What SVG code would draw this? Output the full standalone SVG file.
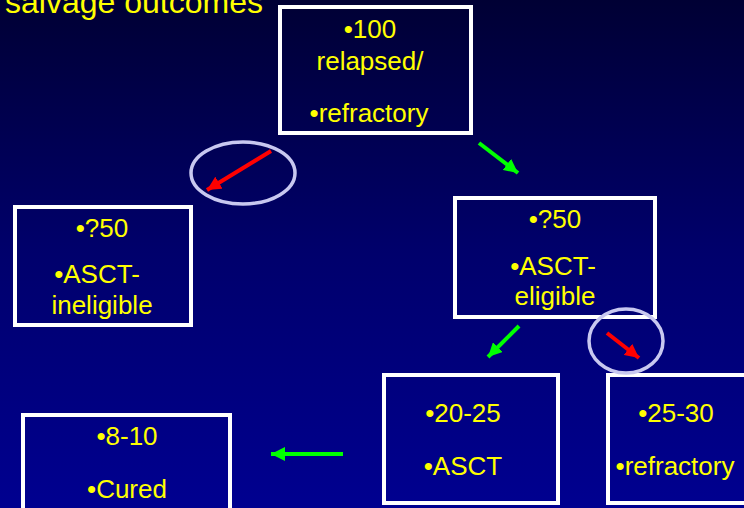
<svg xmlns="http://www.w3.org/2000/svg" width="744" height="508" viewBox="0 0 744 508">
<defs>
<linearGradient id="bg" x1="0" y1="0" x2="0" y2="1">
<stop offset="0" stop-color="#000034"/>
<stop offset="0.5" stop-color="#00006c"/>
<stop offset="1" stop-color="#000090"/>
</linearGradient>
<marker id="hr" markerUnits="userSpaceOnUse" markerWidth="16" markerHeight="14" refX="14" refY="7" orient="auto">
<path d="M0,0 L14,7 L0,14 Z" fill="#ff0000"/>
</marker>
<marker id="hg" markerUnits="userSpaceOnUse" markerWidth="16" markerHeight="14" refX="14" refY="7" orient="auto">
<path d="M0,0 L14,7 L0,14 Z" fill="#00ff00"/>
</marker>
<style>
.box{fill:none;stroke:#ffffff;stroke-width:4}
.t{font-family:"Liberation Sans",Arial,sans-serif;font-size:26px;fill:#ffff00;text-anchor:middle}
.title{font-family:"Liberation Sans",Arial,sans-serif;font-size:32px;fill:#ffff00}
.ring{fill:none;stroke:#c8c8f0;stroke-width:3.5}
.red{stroke:#ff0000;stroke-width:4;fill:none;marker-end:url(#hr)}
.green{stroke:#00ff00;stroke-width:4;fill:none;marker-end:url(#hg)}
</style>
</defs>
<rect x="0" y="0" width="744" height="508" fill="url(#bg)"/>
<text class="title" x="5" y="13">salvage outcomes</text>

<g id="node-top">
<rect class="box" x="280" y="7" width="191" height="126"/>
<text class="t" x="370" y="38">•100</text>
<text class="t" x="370" y="70">relapsed/</text>
<text class="t" x="369" y="122">•refractory</text>
</g>

<g id="node-ineligible">
<rect class="box" x="15" y="207" width="176" height="118"/>
<text class="t" x="102" y="237">•?50</text>
<text class="t" x="97" y="283">•ASCT-</text>
<text class="t" x="102" y="314">ineligible</text>
</g>

<g id="node-eligible">
<rect class="box" x="455" y="198" width="200" height="119"/>
<text class="t" x="555" y="228">•?50</text>
<text class="t" x="553" y="275">•ASCT-</text>
<text class="t" x="555" y="305">eligible</text>
</g>

<g id="node-asct">
<rect class="box" x="384" y="375" width="174" height="128"/>
<text class="t" x="463" y="422">•20-25</text>
<text class="t" x="463" y="475">•ASCT</text>
</g>

<g id="node-refractory">
<rect class="box" x="608" y="375" width="150" height="128"/>
<text class="t" x="676" y="422">•25-30</text>
<text class="t" x="675" y="475">•refractory</text>
</g>

<g id="node-cured">
<rect class="box" x="23" y="415" width="207" height="110"/>
<text class="t" x="127" y="445">•8-10</text>
<text class="t" x="127" y="498">•Cured</text>
</g>

<g id="connectors">
<ellipse class="ring" cx="243" cy="173" rx="52" ry="31"/>
<line class="red" x1="271" y1="151" x2="207" y2="190"/>
<line class="green" x1="479" y1="143" x2="518" y2="173"/>
<line class="green" x1="519" y1="326" x2="488" y2="357"/>
<ellipse class="ring" cx="626" cy="341" rx="37" ry="32"/>
<line class="red" x1="607" y1="333" x2="639" y2="358"/>
<line class="green" x1="343" y1="454" x2="271" y2="454"/>
</g>
</svg>
